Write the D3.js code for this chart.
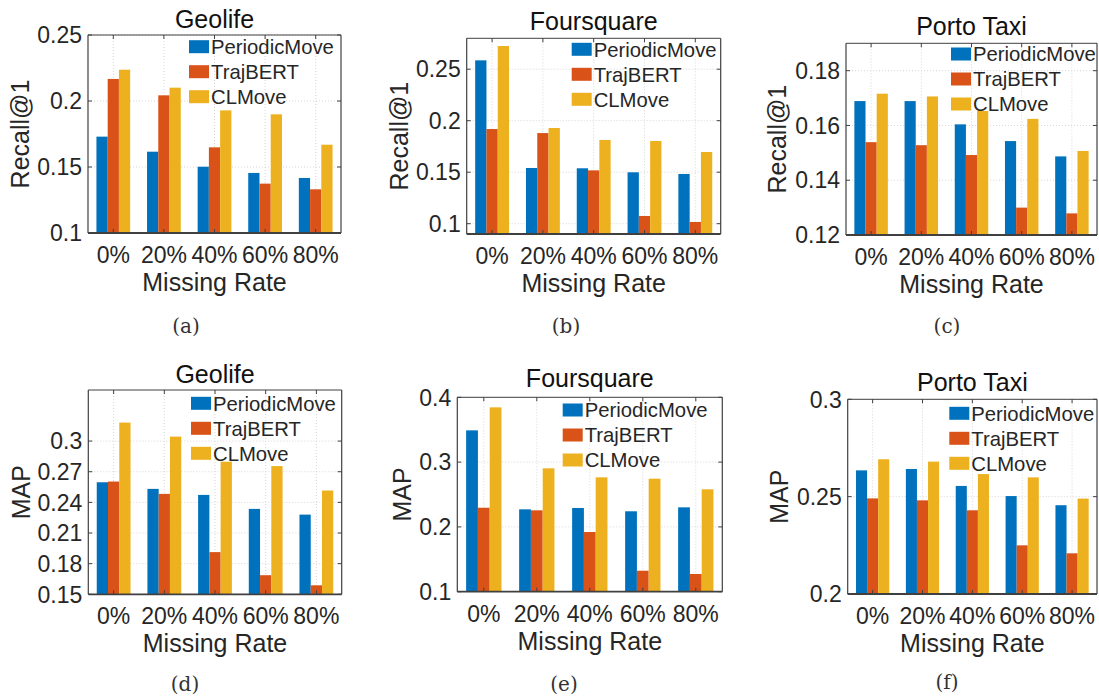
<!DOCTYPE html>
<html>
<head>
<meta charset="utf-8">
<script src="https://cdn.jsdelivr.net/npm/d3@7"></script>
<style>
  body { margin: 0; background: #fff; }
  svg { display: block; font-family: "Liberation Sans", Arial, sans-serif; }
</style>
</head>
<body>
<svg id="chart" width="1099" height="700"></svg>
<script>
// categories and series
var categories = ["0%", "20%", "40%", "60%", "80%"];
var methods = ["PeriodicMove", "TrajBERT", "CLMove"];
var colors = ["#0072BD", "#D95319", "#EDB120"];

// Recall@1, one row per method
var geolifeRecall = [
  [0.173, 0.1616, 0.1502, 0.1455, 0.1417],
  [0.2167, 0.2043, 0.1649, 0.1374, 0.1331],
  [0.2237, 0.2101, 0.1929, 0.1899, 0.1669]
];
var foursquareRecall = [
  [0.2586, 0.1541, 0.1538, 0.1499, 0.1483],
  [0.1919, 0.188, 0.1518, 0.1075, 0.1017],
  [0.2725, 0.1929, 0.1813, 0.1803, 0.1696]
];
var portoRecall = [
  [0.1689, 0.1689, 0.1604, 0.1543, 0.1487],
  [0.1539, 0.1528, 0.1492, 0.1300, 0.1279],
  [0.1716, 0.1706, 0.1653, 0.1624, 0.1507]
];

// MAP
var geolifeMAP = [
  [0.2597, 0.2532, 0.2473, 0.2336, 0.2280],
  [0.2604, 0.2483, 0.1913, 0.1687, 0.1588],
  [0.3181, 0.3044, 0.2798, 0.2755, 0.2516]
];
var foursquareMAP = [
  [0.349, 0.2271, 0.2292, 0.2241, 0.2302],
  [0.2296, 0.2256, 0.1921, 0.1324, 0.1273],
  [0.3845, 0.2904, 0.2765, 0.2744, 0.258]
];
var portoMAP = [
  [0.2635, 0.2642, 0.2555, 0.2503, 0.2456],
  [0.2491, 0.2481, 0.2430, 0.2250, 0.2209],
  [0.2692, 0.2680, 0.2616, 0.2599, 0.2490]
];

// y ticks
var ticksA = [0.1, 0.15, 0.2, 0.25];
var ticksB = [0.1, 0.15, 0.2, 0.25];
var ticksC = [0.12, 0.14, 0.16, 0.18];
var ticksD = [0.15, 0.18, 0.21, 0.24, 0.27, 0.3];
var ticksE = [0.1, 0.2, 0.3, 0.4];
var ticksF = [0.2, 0.25, 0.3];

// panel layout (box edges in px) + what to draw in it
var panels = [
  { title: "Geolife", ylab: "Recall@1", tag: "(a)", data: geolifeRecall, dom: [0.1, 0.25], ticks: ticksA,
    L: 88, R: 341, T: 35, B: 233, titleY: 27.5, ylabX: -59, legX: 189, legY: 46.7, tagX: 186, tagY: 333 },
  { title: "Foursquare", ylab: "Recall@1", tag: "(b)", data: foursquareRecall, dom: [0.09, 0.28], ticks: ticksB,
    L: 466.7, R: 720.7, T: 38.3, B: 234, titleY: 29.5, ylabX: -59, legX: 571.7, legY: 49.3, tagX: 566, tagY: 333 },
  { title: "Porto Taxi", ylab: "Recall@1", tag: "(c)", data: portoRecall, dom: [0.12, 0.19], ticks: ticksC,
    L: 846, R: 1097, T: 43.3, B: 235, titleY: 35, ylabX: -60, legX: 951, legY: 54, tagX: 947, tagY: 333 },
  { title: "Geolife", ylab: "MAP", tag: "(d)", data: geolifeMAP, dom: [0.15, 0.35], ticks: ticksD,
    L: 88.3, R: 341.7, T: 390, B: 594.3, titleY: 383, ylabX: -58, legX: 191, legY: 403.3, tagX: 185, tagY: 691 },
  { title: "Foursquare", ylab: "MAP", tag: "(e)", data: foursquareMAP, dom: [0.1, 0.4], ticks: ticksE,
    L: 457.3, R: 722.3, T: 397.3, B: 591.7, titleY: 387, ylabX: -46, legX: 562.7, legY: 410, tagX: 564, tagY: 691 },
  { title: "Porto Taxi", ylab: "MAP", tag: "(f)", data: portoMAP, dom: [0.2, 0.3], ticks: ticksF,
    L: 847.7, R: 1097, T: 399.3, B: 594, titleY: 390.5, ylabX: -60, legX: 949.3, legY: 413.3, tagX: 947, tagY: 689 }
];

var svg = d3.select("#chart");
var axisCol = "#404040";
var textCol = "#262626";

panels.forEach(function(p) {
  var g = svg.append("g");
  var x = d3.scaleLinear().domain([0.5, 5.5]).range([p.L, p.R]);
  var y = d3.scaleLinear().domain(p.dom).range([p.B, p.T]);
  var sub = d3.scaleBand().domain(methods).range([-1 / 3, 1 / 3]);
  var bw = x(sub.bandwidth()) - x(0);

  // grid
  g.selectAll(".gy").data(p.ticks).join("line")
    .attr("x1", p.L).attr("x2", p.R)
    .attr("y1", function(d) { return y(d); }).attr("y2", function(d) { return y(d); })
    .attr("stroke", "#d6d6d6").attr("stroke-width", 1).attr("stroke-dasharray", "1,2");
  g.selectAll(".gx").data(categories).join("line")
    .attr("x1", function(d, i) { return x(i + 1); }).attr("x2", function(d, i) { return x(i + 1); })
    .attr("y1", p.T).attr("y2", p.B)
    .attr("stroke", "#d6d6d6").attr("stroke-width", 1).attr("stroke-dasharray", "1,2");

  // bars
  methods.forEach(function(m, mi) {
    g.selectAll(".bar" + mi).data(p.data[mi]).join("rect")
      .attr("x", function(d, i) { return x(i + 1 + sub(m)); })
      .attr("width", bw)
      .attr("y", function(d) { return y(d); })
      .attr("height", function(d) { return p.B - y(d); })
      .attr("fill", colors[mi]);
  });

  // box
  g.append("line").attr("x1", p.L).attr("x2", p.R).attr("y1", p.T).attr("y2", p.T)
    .attr("stroke", axisCol).attr("stroke-width", 1);
  g.append("line").attr("x1", p.R).attr("x2", p.R).attr("y1", p.T).attr("y2", p.B)
    .attr("stroke", axisCol).attr("stroke-width", 1.2);
  g.append("line").attr("x1", p.L).attr("x2", p.L).attr("y1", p.T).attr("y2", p.B)
    .attr("stroke", axisCol).attr("stroke-width", 1.2);
  g.append("line").attr("x1", p.L).attr("x2", p.R).attr("y1", p.B).attr("y2", p.B)
    .attr("stroke", axisCol).attr("stroke-width", 1.8);

  // ticks (inward, both sides)
  p.ticks.forEach(function(t) {
    g.append("line").attr("x1", p.L).attr("x2", p.L + 4).attr("y1", y(t)).attr("y2", y(t)).attr("stroke", axisCol);
    g.append("line").attr("x1", p.R).attr("x2", p.R - 4).attr("y1", y(t)).attr("y2", y(t)).attr("stroke", axisCol);
  });
  categories.forEach(function(c, i) {
    g.append("line").attr("x1", x(i + 1)).attr("x2", x(i + 1)).attr("y1", p.B).attr("y2", p.B - 4).attr("stroke", axisCol);
    g.append("line").attr("x1", x(i + 1)).attr("x2", x(i + 1)).attr("y1", p.T).attr("y2", p.T + 4).attr("stroke", axisCol);
  });

  // tick labels
  g.selectAll(".yt").data(p.ticks).join("text")
    .attr("x", p.L - 6).attr("y", function(d) { return y(d) + 8.2; })
    .attr("text-anchor", "end").attr("font-size", 23).attr("fill", textCol)
    .text(function(d) { return String(+d.toFixed(3)); });
  g.selectAll(".xt").data(categories).join("text")
    .attr("x", function(d, i) { return x(i + 1); }).attr("y", p.B + 30)
    .attr("text-anchor", "middle").attr("font-size", 23).attr("fill", textCol)
    .text(function(d) { return d; });

  // labels
  var cx = (p.L + p.R) / 2;
  g.append("text").attr("x", cx).attr("y", p.B + 58)
    .attr("text-anchor", "middle").attr("font-size", 25).attr("fill", textCol).text("Missing Rate");
  g.append("text")
    .attr("transform", "translate(" + (p.L + p.ylabX) + "," + ((p.T + p.B) / 2) + ") rotate(-90)")
    .attr("text-anchor", "middle").attr("font-size", 25).attr("fill", textCol).text(p.ylab);
  g.append("text").attr("x", cx).attr("y", p.titleY)
    .attr("text-anchor", "middle").attr("font-size", 25).attr("font-weight", "normal")
    .attr("fill", "#111").text(p.title);

  // legend
  methods.forEach(function(m, mi) {
    var ry = p.legY + mi * 25;
    g.append("rect").attr("x", p.legX).attr("y", ry - 6.5).attr("width", 20).attr("height", 13)
      .attr("fill", colors[mi]);
    g.append("text").attr("x", p.legX + 22).attr("y", ry + 7.2)
      .attr("font-size", 20.3).attr("fill", textCol).text(m);
  });

  // sub caption
  svg.append("text").attr("x", p.tagX).attr("y", p.tagY)
    .attr("text-anchor", "middle").attr("font-family", "'DejaVu Serif', serif")
    .attr("font-size", 20).attr("fill", "#333").text(p.tag);
});
</script>
</body>
</html>
